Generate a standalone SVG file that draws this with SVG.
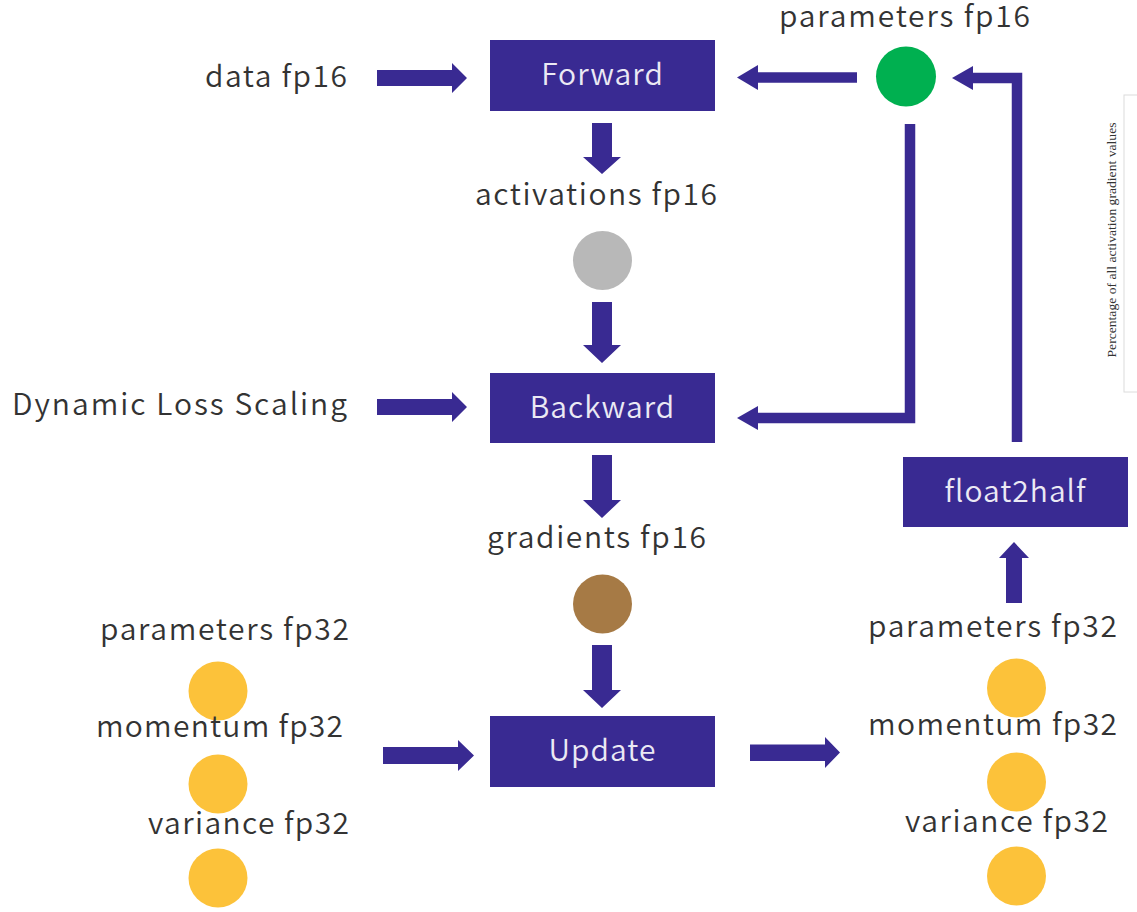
<svg xmlns="http://www.w3.org/2000/svg" width="1137" height="912" viewBox="0 0 1137 912">
<style>
  .lbl { font-family: "Noto Sans CJK JP", "Noto Sans", "Liberation Sans", sans-serif; font-size: 30px; font-weight: 350; fill: #333333; }
  .box { fill: #392a92; }
  .btxt { font-family: "Noto Sans CJK JP", "Noto Sans", "Liberation Sans", sans-serif; font-size: 30px; font-weight: 350; fill: #ebe9f4; text-anchor: middle; letter-spacing: 1px; }
  .arr { fill: #392a92; }
  .ln { fill: none; stroke: #392a92; stroke-width: 10.5; stroke-linejoin: miter; }
  .yel { fill: #fcc23a; }
</style>
<rect width="1137" height="912" fill="#ffffff"/>

<!-- chart fragment at the right edge -->
<g id="chart-fragment">
  <rect x="1124" y="95" width="20" height="297" fill="#ffffff" stroke="#dcdcdc" stroke-width="1"/>
  <text x="0" y="0" transform="translate(1116,240) rotate(-90)" text-anchor="middle" font-family="Liberation Serif, serif" font-size="13" textLength="235" lengthAdjust="spacingAndGlyphs" fill="#333">Percentage of all activation gradient values</text>
</g>

<g id="connectors">
  <!-- data -> Forward -->
  <polygon class="arr" points="377,70 452,70 452,63 467,78 452,93 452,86 377,86"/>
  <!-- Dynamic Loss Scaling -> Backward -->
  <polygon class="arr" points="377,399 452,399 452,392 467,407 452,422 452,415 377,415"/>
  <!-- left group -> Update -->
  <polygon class="arr" points="383,747 458,747 458,740 474,755.5 458,771 458,764 383,764"/>
  <!-- Update -> right group -->
  <polygon class="arr" points="750,744.5 825,744.5 825,737 840,752.5 825,768 825,761 750,761"/>
  <!-- vertical down arrows -->
  <polygon class="arr" points="592,123 612,123 612,157 621,157 602,174 583,157 592,157"/>
  <polygon class="arr" points="592,302 612,302 612,345 621,345 602,363 583,345 592,345"/>
  <polygon class="arr" points="592,455 612,455 612,500 621,500 602,518 583,500 592,500"/>
  <polygon class="arr" points="592,645 612,645 612,690 621,690 602,708 583,690 592,690"/>
  <!-- parameters fp32 -> float2half (up) -->
  <polygon class="arr" points="1006,603 1022,603 1022,558 1029,558 1014,542 999,558 1006,558"/>
  <!-- parameters fp16 -> Forward -->
  <line class="ln" x1="857" y1="77.5" x2="755" y2="77.5"/>
  <polygon class="arr" points="737,77.5 758,65 758,90"/>
  <!-- float2half -> parameters fp16 -->
  <polyline class="ln" points="1017,442 1017,78 970,78"/>
  <polygon class="arr" points="952,78 973,66 973,90"/>
  <!-- parameters fp16 -> Backward -->
  <polyline class="ln" points="910,124 910,418 755,418"/>
  <polygon class="arr" points="737,418 758,406 758,430"/>
</g>

<g id="forward">
  <rect class="box" x="490" y="40" width="225" height="71"/>
  <text class="btxt" x="602.5" y="85">Forward</text>
</g>
<g id="backward">
  <rect class="box" x="490" y="373" width="225" height="70"/>
  <text class="btxt" x="602.5" y="418">Backward</text>
</g>
<g id="update">
  <rect class="box" x="490" y="716" width="225" height="71"/>
  <text class="btxt" x="602.5" y="761">Update</text>
</g>
<g id="float2half">
  <rect class="box" x="903" y="457" width="225" height="70"/>
  <text class="btxt" x="1015.5" y="502">float2half</text>
</g>

<g id="data-fp16">
  <text class="lbl" x="205" y="87" textLength="142" lengthAdjust="spacing">data fp16</text>
</g>
<g id="dynamic-loss-scaling">
  <text class="lbl" x="12" y="415" textLength="335" lengthAdjust="spacing">Dynamic Loss Scaling</text>
</g>
<g id="parameters-fp16">
  <text class="lbl" x="779" y="27" textLength="251" lengthAdjust="spacing">parameters fp16</text>
  <circle cx="906" cy="76.5" r="30" fill="#00b050"/>
</g>
<g id="activations-fp16">
  <text class="lbl" x="475" y="205" textLength="242" lengthAdjust="spacing">activations fp16</text>
  <circle cx="602.5" cy="260.5" r="29.5" fill="#b8b8b8"/>
</g>
<g id="gradients-fp16">
  <text class="lbl" x="487" y="548" textLength="219" lengthAdjust="spacing">gradients fp16</text>
  <circle cx="602.5" cy="604" r="29.5" fill="#a67a45"/>
</g>

<g id="left-parameters-fp32">
  <text class="lbl" x="100" y="640" textLength="249" lengthAdjust="spacing">parameters fp32</text>
  <circle class="yel" cx="218" cy="691" r="29.5"/>
</g>
<g id="left-momentum-fp32">
  <text class="lbl" x="96" y="737" textLength="247" lengthAdjust="spacing">momentum fp32</text>
  <circle class="yel" cx="218" cy="784" r="29.5"/>
</g>
<g id="left-variance-fp32">
  <text class="lbl" x="148" y="834" textLength="201" lengthAdjust="spacing">variance fp32</text>
  <circle class="yel" cx="218" cy="878" r="29.5"/>
</g>

<g id="right-parameters-fp32">
  <text class="lbl" x="868" y="637" textLength="249" lengthAdjust="spacing">parameters fp32</text>
  <circle class="yel" cx="1016.5" cy="688" r="29.5"/>
</g>
<g id="right-momentum-fp32">
  <text class="lbl" x="868" y="735" textLength="249" lengthAdjust="spacing">momentum fp32</text>
  <circle class="yel" cx="1016.5" cy="782" r="29.5"/>
</g>
<g id="right-variance-fp32">
  <text class="lbl" x="905" y="832" textLength="203" lengthAdjust="spacing">variance fp32</text>
  <circle class="yel" cx="1016.5" cy="876" r="29.5"/>
</g>
</svg>
